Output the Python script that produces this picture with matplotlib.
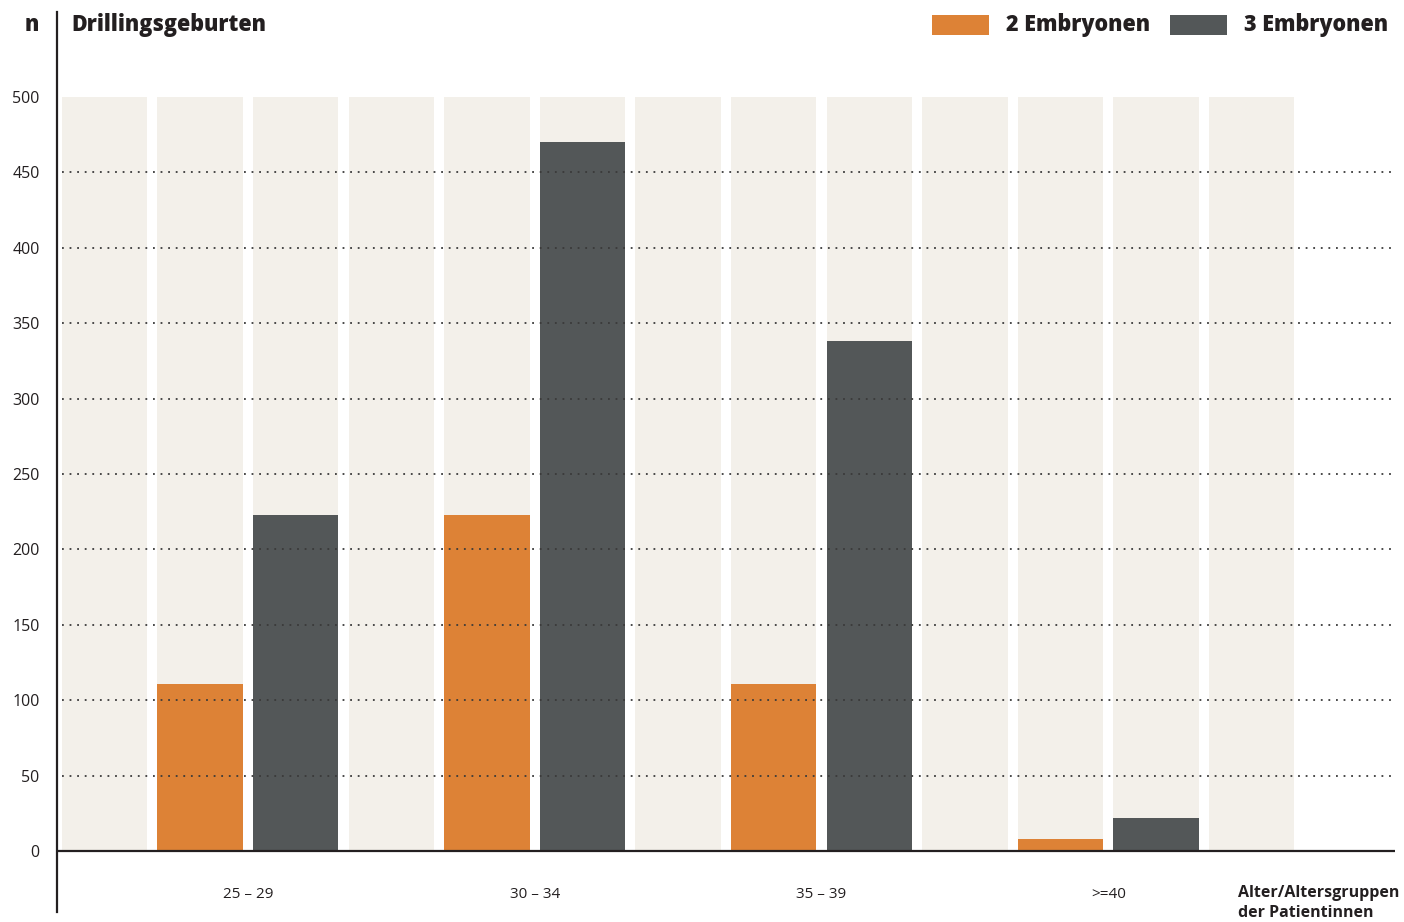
import matplotlib
matplotlib.use("Agg")
import matplotlib.pyplot as plt
from matplotlib.patches import Rectangle
import matplotlib.transforms as mtransforms

# ---- data ----
groups = ["25 – 29", "30 – 34", "35 – 39", ">=40"]
series_names = ["2 Embryonen", "3 Embryonen"]
vals_2 = [111, 223, 111, 8]
vals_3 = [223, 470, 338, 22]
yticks = [0, 50, 100, 150, 200, 250, 300, 350, 400, 450, 500]
grid_values = [50, 100, 150, 200, 250, 300, 350, 400, 450]

col_2 = "#DD8236"
col_3 = "#535758"
col_bg = "#F3F0EA"
col_ax = "#231F20"

plt.rcParams['font.family'] = ['Open Sans', 'DejaVu Sans']

W, H = 1404, 922
fig = plt.figure(figsize=(W / 100, H / 100), dpi=100)

# axes in pixel coords: left 57, right 1395, top 12, bottom 912
L, R, T, B = 57, 1395, 12, 912
ax = fig.add_axes([L / W, 1 - B / H, (R - L) / W, (B - T) / H])

px_per_unit_y = (851 - 97) / 500.0
ymin = -(B - 851) / px_per_unit_y
ymax = 500 + (97 - T) / px_per_unit_y
pitch = 95.6
c0 = 104.5
xmin = -(c0 - L) / pitch
xmax = (R - c0) / pitch
ax.set_xlim(xmin, xmax)
ax.set_ylim(ymin, ymax)

nslots = 3 * len(groups) + 1
bw = 85.5 / pitch
# background columns
ax.bar(range(nslots), [500] * nslots, width=bw, color=col_bg, zorder=1, linewidth=0)

pos2 = [3 * i + 1 for i in range(len(groups))]
pos3 = [3 * i + 2 for i in range(len(groups))]
ax.bar(pos2, vals_2, width=bw, color=col_2, zorder=2, linewidth=0)
ax.bar(pos3, vals_3, width=bw, color=col_3, zorder=2, linewidth=0)

# gridlines (dotted, over bars)
x_grid_start = xmin + (62 - L) / pitch
for v in grid_values:
    ax.plot([x_grid_start, xmax], [v, v], color="#3a3a3a", lw=1.3,
            linestyle=(0, (1, 3.2)), zorder=3)

# x-axis line at 0
ax.plot([xmin, xmax], [0, 0], color=col_ax, lw=1.6, zorder=4, solid_capstyle='butt')

for s in ["top", "right", "bottom"]:
    ax.spines[s].set_visible(False)
ax.spines["left"].set_color(col_ax)
ax.spines["left"].set_linewidth(1.6)
ax.spines["left"].set_zorder(5)

ax.set_yticks(yticks)
ax.set_yticklabels([str(v) for v in yticks], fontsize=11.5, color=col_ax)
ax.tick_params(axis='y', length=0, pad=12.5)

ax.set_xticks([])
blend = mtransforms.blended_transform_factory(ax.transData, fig.transFigure)
for p, g in zip(pos2, groups):
    ax.text(p + 0.5, 1 - 894 / H, g, transform=blend,
            ha='center', va='center', fontsize=11, color=col_ax)

def fx(x):
    return x / W

def fy(y):
    return 1 - y / H

# title, n
fig.text(fx(32), fy(25), "n", ha='center', va='center', fontsize=15.5, fontweight='heavy', color=col_ax)
fig.text(fx(71), fy(25), "Drillingsgeburten", ha='left', va='center', fontsize=15.5,
         fontweight='heavy', color=col_ax)

# legend
for (x0, col, name, tx) in [(932, col_2, series_names[0], 1006), (1170, col_3, series_names[1], 1244)]:
    fig.patches.append(Rectangle((fx(x0), fy(35)), 57 / W, 20 / H, transform=fig.transFigure,
                                 color=col, linewidth=0))
    fig.text(fx(tx), fy(25), name, ha='left', va='center', fontsize=15.5, fontweight='heavy', color=col_ax)

# axis label
fig.text(fx(1238), fy(893), "Alter/Altersgruppen", ha='left', va='center', fontsize=11.5,
         fontweight='bold', color=col_ax)
fig.text(fx(1238), fy(913), "der Patientinnen", ha='left', va='center', fontsize=11.5,
         fontweight='bold', color=col_ax)

fig.savefig("out.png", dpi=100, facecolor="white")
